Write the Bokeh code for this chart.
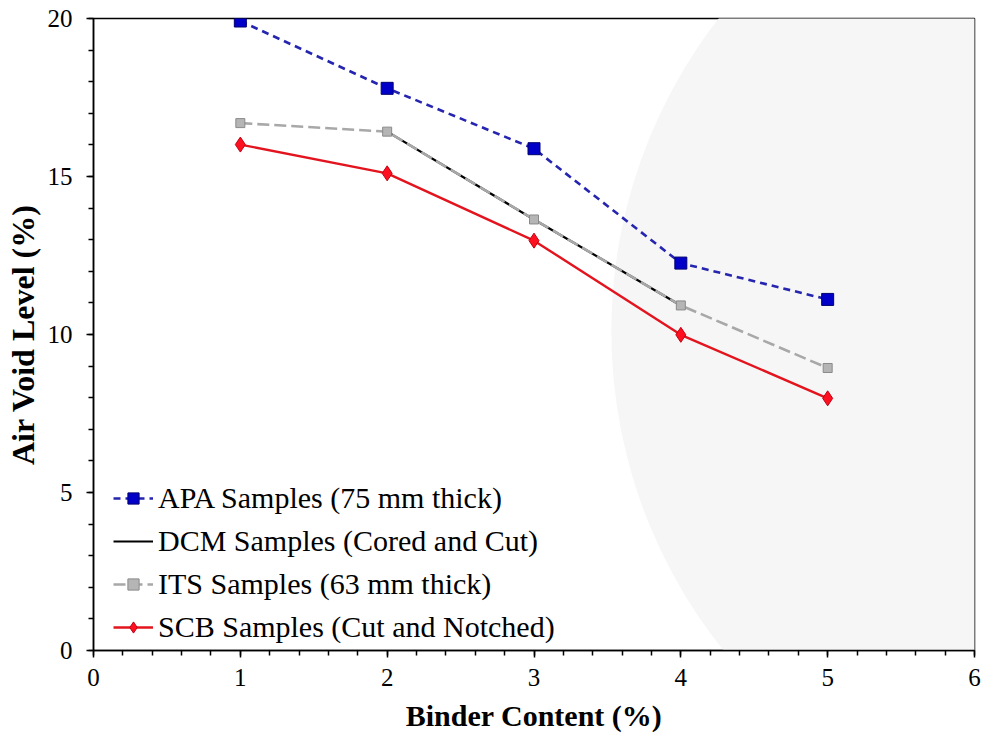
from bokeh.plotting import figure
from bokeh.models import Range1d, SingleIntervalTicker, Legend, LegendItem
from bokeh.embed import file_html
from bokeh.resources import INLINE

# ---- data ----
binder = [1, 2, 3, 4, 5]
apa = [19.92, 17.79, 15.88, 12.26, 11.11]
its = [16.69, 16.42, 13.64, 10.92, 8.94]
scb = [16.01, 15.10, 12.97, 9.99, 7.98]
dcm_binder = [2, 3, 4]
dcm = [16.42, 13.64, 10.92]

labels = ["APA Samples (75 mm thick)", "DCM Samples (Cored and Cut)",
          "ITS Samples (63 mm thick)", "SCB Samples (Cut and Notched)"]

FONT = "Liberation Serif"

p = figure(width=983, height=738, output_backend="svg", toolbar_location=None,
           x_range=Range1d(0, 6), y_range=Range1d(0, 20),
           min_border_left=93, min_border_right=9, min_border_top=18, min_border_bottom=88)

p.background_fill_color = "white"
p.border_fill_color = "white"
p.grid.visible = False
p.outline_line_color = "black"
p.outline_line_width = 1.5

# faint background watermark disc (decoration)
WM_X, WM_Y, WM_R = 7.0, 10.1, 510
p.circle(x=[WM_X], y=[WM_Y], radius=WM_R, radius_units="screen",
         fill_color="#f6f6f6", line_color=None)

# series
r_dcm = p.line(dcm_binder, dcm, line_color="black", line_width=2.2)
r_its_l = p.line(binder, its, line_color="#a8a8a8", line_width=2.6, line_dash="12 5")
r_its_m = p.scatter(binder, its, marker="square", size=9, fill_color="#b5b5b5",
                    line_color="#8a8a8a", line_width=1)
r_scb_l = p.line(binder, scb, line_color="#e3141e", line_width=2.4)
r_scb_m = p.scatter(binder, scb, marker="diamond", size=15, fill_color="#ff1020",
                    line_color="#c00010", line_width=1)
r_apa_l = p.line(binder, apa, line_color="#2525b0", line_width=2.6, line_dash="7 5")
r_apa_m = p.scatter(binder, apa, marker="square", size=12, fill_color="#0000c8",
                    line_color="#000070", line_width=1)

# axes
for ax in (p.xaxis[0], p.yaxis[0]):
    ax.axis_line_width = 1.5
    ax.axis_line_color = "black"
    ax.major_tick_line_width = 1.5
    ax.minor_tick_line_width = 1.5
    ax.major_tick_in = 0
    ax.major_tick_out = 7
    ax.minor_tick_in = 0
    ax.minor_tick_out = 5
    ax.major_label_text_font = FONT
    ax.major_label_text_font_size = "25px"
    ax.major_label_text_color = "black"
    ax.axis_label_text_font = FONT
    ax.axis_label_text_font_style = "bold"
    ax.axis_label_text_color = "black"

p.xaxis[0].ticker = SingleIntervalTicker(interval=1, num_minor_ticks=5)
p.yaxis[0].ticker = SingleIntervalTicker(interval=5, num_minor_ticks=5)
p.xaxis[0].axis_label = "Binder Content (%)"
p.yaxis[0].axis_label = "Air Void Level (%)"
p.xaxis[0].axis_label_text_font_size = "30px"
p.yaxis[0].axis_label_text_font_size = "32px"
p.xaxis[0].major_label_standoff = 11
p.yaxis[0].major_label_standoff = 14
p.xaxis[0].axis_label_standoff = 10
p.yaxis[0].axis_label_standoff = 4

legend = Legend(items=[
    LegendItem(label=labels[0], renderers=[r_apa_l, r_apa_m]),
    LegendItem(label=labels[1], renderers=[r_dcm]),
    LegendItem(label=labels[2], renderers=[r_its_l, r_its_m]),
    LegendItem(label=labels[3], renderers=[r_scb_l, r_scb_m]),
], location=(20, 6))
legend.label_text_font = FONT
legend.label_text_font_size = "30px"
legend.label_text_color = "black"
legend.border_line_color = None
legend.background_fill_alpha = 0
legend.padding = 0
legend.margin = 0
legend.spacing = 9
legend.glyph_width = 40
legend.glyph_height = 28
legend.label_height = 28
legend.label_standoff = 5
p.add_layout(legend)

open("out.html", "w").write(file_html(p, INLINE))
